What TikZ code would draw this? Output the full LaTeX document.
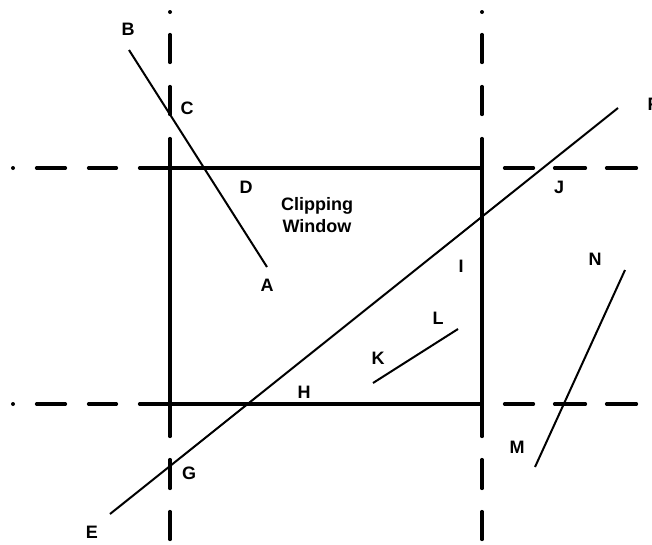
\documentclass[tikz,border=0pt]{standalone}
\usepackage{fontspec}
\setmainfont{Liberation Sans}
\begin{document}
\begin{tikzpicture}[x=1pt,y=-1pt,
  thickln/.style={line width=3.2pt,line cap=round},
  thinln/.style={line width=2pt},
  lbl/.style={inner sep=0pt,font=\fontsize{18}{22}\selectfont\bfseries},
  dotmark/.style={circle,fill=black,inner sep=0pt,minimum size=4pt}]
\useasboundingbox (0,0) rectangle (652,544);
% clipping window
\coordinate (w1) at (170,168);
\coordinate (w2) at (482,168);
\coordinate (w3) at (482,404);
\coordinate (w4) at (170,404);
\draw[thickln,line cap=butt] (w1) -- (w2) -- (w3) -- (w4) -- cycle;
% extended boundary lines (dashed)
\foreach \x in {170,482}{
  \node[dotmark] at (\x,12) {};
  \foreach \a/\b in {34.5/62.5,86.5/114.5,138.5/168,404/436.5,459.5/488.5,511.5/539.5}
    \draw[thickln] (\x,\a) -- (\x,\b);
}
\foreach \y in {168,404}{
  \node[dotmark] at (13,\y) {};
  \foreach \a/\b in {36.5/65.5,88.5/116.5,139.5/170,504.5/533.5,554.5/585.5,606.5/636.5}
    \draw[thickln] (\a,\y) -- (\b,\y);
}
% segments
\coordinate (pB) at (129,50);
\coordinate (pA) at (267,267);
\coordinate (pE) at (110,514);
\coordinate (pF) at (618,108);
\coordinate (pK) at (373,383);
\coordinate (pL) at (458,329);
\coordinate (pM) at (535,467);
\coordinate (pN) at (625,270);
\draw[thinln] (pB) -- (pA);
\draw[thinln] (pE) -- (pF);
\draw[thinln] (pK) -- (pL);
\draw[thinln] (pM) -- (pN);
% labels
\node[lbl] (lB) at (128,29) {B};
\node[lbl] (lC) at (187,108) {C};
\node[lbl] (lD) at (246,187) {D};
\node[lbl] (lA) at (267,285.5) {A};
\node[lbl] (lI) at (461,266) {I};
\node[lbl] (lL) at (438,318) {L};
\node[lbl] (lK) at (378,358) {K};
\node[lbl] (lH) at (304,392) {H};
\node[lbl] (lJ) at (559,187) {J};
\node[lbl] (lG) at (189,473) {G};
\node[lbl] (lE) at (92,532) {E};
\node[lbl] (lM) at (517,447) {M};
\node[lbl] (lN) at (595,259) {N};
\node[lbl,anchor=west] (lF) at (647.5,104) {F};
\node[lbl,anchor=base] (lC1) at (317,210) {Clipping};
\node[lbl,anchor=base] (lC2) at (317,232.5) {Window};
\end{tikzpicture}
\end{document}
